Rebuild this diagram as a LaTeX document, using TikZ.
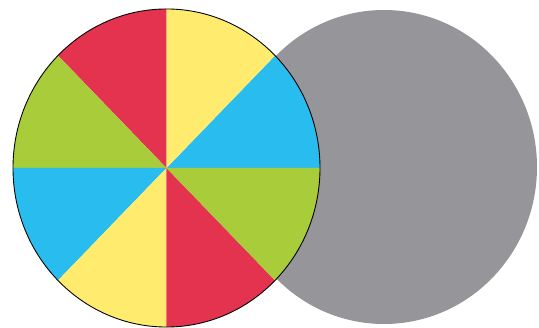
\documentclass[tikz,border=0pt]{standalone}
\definecolor{wred}{RGB}{228,51,79}
\definecolor{wyellow}{RGB}{255,236,110}
\definecolor{wblue}{RGB}{41,189,239}
\definecolor{wgreen}{RGB}{168,204,58}
\definecolor{wgray}{RGB}{150,149,154}
\begin{document}
\begin{tikzpicture}[x=0.02cm, y=0.02cm,
    shadow/.style={fill=wgray},
    rim/.style   ={draw=black, line width=0.5pt},
  ]
  \useasboundingbox (0,0) rectangle (539,328);
  % grey disc behind
  \fill[shadow] (384,161) ellipse [x radius=153, y radius=157];
  % colour wheel
  \coordinate (hub) at (166.5,160);
  \begin{scope}[shift={(hub)}, yscale=1.036]
    \foreach \a/\c in {0/wblue,45/wyellow,90/wred,135/wgreen,180/wblue,225/wyellow,270/wred,315/wgreen}{
      \fill[\c] (0,0) -- (\a:153.5) arc[start angle=\a, delta angle=45, radius=153.5] -- cycle;
    }
    \draw[rim] (0,0) circle [radius=153.5];
  \end{scope}
\end{tikzpicture}
\end{document}
